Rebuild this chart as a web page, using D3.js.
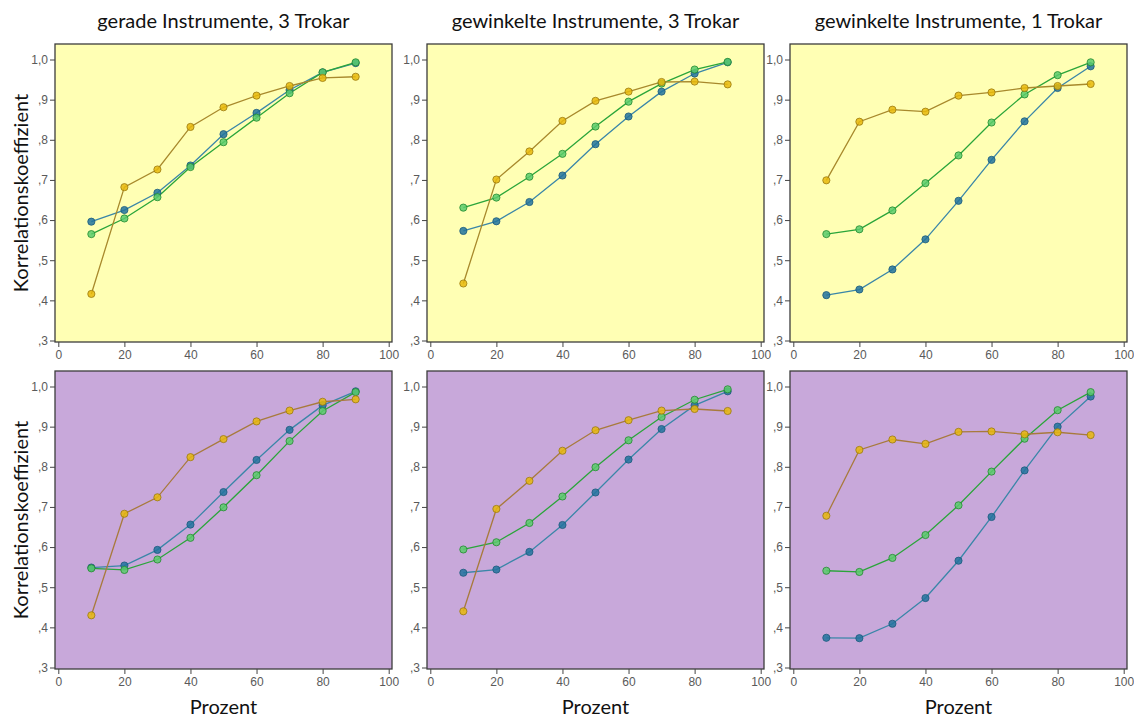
<!DOCTYPE html>
<html>
<head>
<meta charset="utf-8">
<script src="https://cdn.jsdelivr.net/npm/d3@7"></script>
<style>
  body { margin: 0; background: #fff; }
  svg { display: block; }
  .tick text { font-family: "Liberation Sans", Arial, sans-serif; font-size: 12px; fill: #5a5a5a; }
  .tick line { stroke: #444; }
  .ttl, .lab { font-family: Lato, "Open Sans", sans-serif; font-size: 20px; fill: #111; }
</style>
</head>
<body>
<script>
// x values (Prozent)
var pct = [10, 20, 30, 40, 50, 60, 70, 80, 90];
var titles = ["gerade Instrumente, 3 Trokar", "gewinkelte Instrumente, 3 Trokar", "gewinkelte Instrumente, 1 Trokar"];
var yTicks = [0.3, 0.4, 0.5, 0.6, 0.7, 0.8, 0.9, 1.0];
var xTicks = [0, 20, 40, 60, 80, 100];

// top row (yellow)
var blau_o = [
  [0.596, 0.625, 0.668, 0.736, 0.814, 0.867, 0.924, 0.968, 0.991],
  [0.573, 0.597, 0.645, 0.711, 0.789, 0.858, 0.920, 0.965, 0.993],
  [0.413, 0.427, 0.477, 0.552, 0.648, 0.750, 0.846, 0.929, 0.983]
];
var gruen_o = [
  [0.565, 0.604, 0.657, 0.732, 0.794, 0.855, 0.916, 0.968, 0.993],
  [0.631, 0.656, 0.708, 0.765, 0.833, 0.895, 0.940, 0.975, 0.994],
  [0.565, 0.577, 0.624, 0.692, 0.761, 0.843, 0.913, 0.961, 0.993]
];
var gelb_o = [
  [0.416, 0.682, 0.726, 0.832, 0.881, 0.910, 0.934, 0.954, 0.957],
  [0.442, 0.701, 0.771, 0.847, 0.897, 0.920, 0.944, 0.945, 0.938],
  [0.699, 0.845, 0.875, 0.870, 0.910, 0.918, 0.929, 0.934, 0.939]
];
// bottom row (purple)
var blau_u = [
  [0.549, 0.554, 0.593, 0.656, 0.737, 0.817, 0.892, 0.953, 0.988],
  [0.536, 0.544, 0.588, 0.655, 0.736, 0.818, 0.894, 0.953, 0.988],
  [0.374, 0.373, 0.409, 0.473, 0.566, 0.675, 0.791, 0.900, 0.975]
];
var gruen_u = [
  [0.547, 0.543, 0.569, 0.623, 0.699, 0.779, 0.864, 0.939, 0.986],
  [0.594, 0.612, 0.660, 0.726, 0.799, 0.866, 0.924, 0.967, 0.993],
  [0.541, 0.538, 0.573, 0.630, 0.704, 0.788, 0.870, 0.941, 0.986]
];
var gelb_u = [
  [0.430, 0.683, 0.724, 0.824, 0.869, 0.913, 0.940, 0.962, 0.968],
  [0.440, 0.695, 0.765, 0.840, 0.891, 0.916, 0.940, 0.944, 0.939],
  [0.678, 0.842, 0.868, 0.857, 0.887, 0.888, 0.881, 0.886, 0.879]
];

var W = 1134, H = 717;
var colLeft = [55, 427, 790], pw = 337, ph = 298;
var rowTop = [44, 371];
var bgs = ["#ffffb4", "#c8a8da"];

var seriesStyle = [
  {line: "#3a86a8", fill: "#22739e", stroke: "#1a5a7c"},   // blau
  {line: "#2aa53a", fill: "#5acb6c", stroke: "#238a30"},   // gruen
  {line: "#a8892c", fill: "#e8b90c", stroke: "#9a7a10"}    // gelb
];
var brownLine = "#a87a3c";

var svg = d3.select("body").append("svg").attr("width", W).attr("height", H);

var rows = [[blau_o, gruen_o, gelb_o], [blau_u, gruen_u, gelb_u]];

rows.forEach(function(rowData, r) {
  colLeft.forEach(function(left, c) {
    var top = rowTop[r];
    var g = svg.append("g").attr("transform", "translate(" + left + "," + top + ")");
    var x = d3.scaleLinear().domain([0, 100]).range([3.3, pw - 3.3]);
    var y = d3.scaleLinear().domain([0.3, 1.0]).range([ph - 1.5, 15.5]);

    g.append("rect").attr("width", pw).attr("height", ph)
      .attr("fill", bgs[r]).attr("stroke", "#3c3c3c").attr("stroke-width", 1.3);

    var ya = g.append("g").call(d3.axisLeft(y).tickValues(yTicks).tickSize(5).tickPadding(2)
      .tickFormat(function(d) { return d === 1 ? "1,0" : "," + Math.round(d * 10); }));
    ya.select(".domain").remove();

    var xa = g.append("g").attr("transform", "translate(0," + ph + ")")
      .call(d3.axisBottom(x).tickValues(xTicks).tickSize(5).tickPadding(3));
    xa.select(".domain").remove();

    var line = d3.line().x(function(d, i) { return x(pct[i]); }).y(function(d) { return y(d); });

    rowData.forEach(function(set, s) {
      var vals = set[c];
      var st = seriesStyle[s];
      var lc = (s === 2 && r === 1) ? brownLine : st.line;
      g.append("path").datum(vals).attr("d", line)
        .attr("fill", "none").attr("stroke", lc).attr("stroke-width", 1.3);
    });
    rowData.forEach(function(set, s) {
      var vals = set[c];
      var st = seriesStyle[s];
      g.selectAll(null).data(vals).enter().append("circle")
        .attr("cx", function(d, i) { return x(pct[i]); })
        .attr("cy", function(d) { return y(d); })
        .attr("r", 3.6)
        .attr("fill", st.fill).attr("fill-opacity", 0.85)
        .attr("stroke", st.stroke).attr("stroke-width", 0.8);
    });

    if (r === 0) {
      svg.append("text").attr("class", "ttl")
        .attr("x", left + pw / 2).attr("y", 28).attr("text-anchor", "middle")
        .text(titles[c]);
    } else {
      svg.append("text").attr("class", "lab")
        .attr("x", left + pw / 2).attr("y", 714).attr("text-anchor", "middle")
        .text("Prozent");
    }
    if (c === 0) {
      svg.append("text").attr("class", "lab")
        .attr("transform", "translate(28," + (top + ph / 2) + ") rotate(-90)")
        .attr("text-anchor", "middle")
        .text("Korrelationskoeffizient");
    }
  });
});
</script>
</body>
</html>
